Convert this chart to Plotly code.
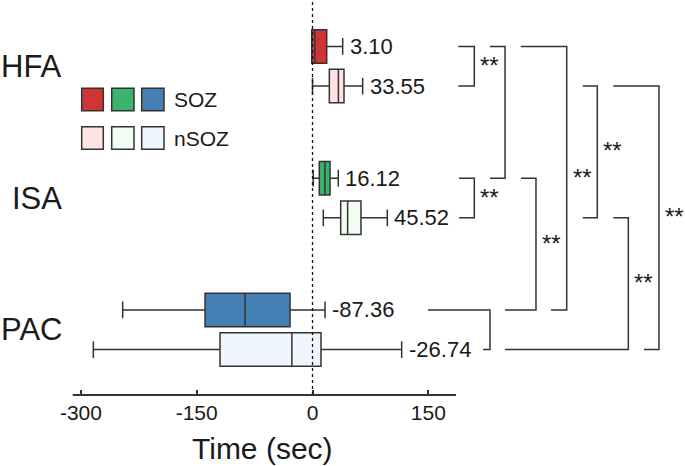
import plotly.graph_objects as go

# ---------------- data (seconds) ----------------
categories = ["HFA", "ISA", "PAC"]

soz_lower = [-1.0, 1.0, -245.9]
soz_q1 = [-1.0, 8.8, -139.2]
soz_median = [3.10, 16.12, -87.36]
soz_q3 = [18.4, 22.7, -29.1]
soz_upper = [39.1, 33.4, 16.2]

nsoz_lower = [0.0, 14.0, -283.9]
nsoz_q1 = [21.8, 36.5, -119.8]
nsoz_median = [33.55, 45.52, -26.74]
nsoz_q3 = [40.8, 62.8, 11.0]
nsoz_upper = [65.0, 96.9, 115.5]

soz_colors = ["#d03535", "#3cb46e", "#4480b3"]
nsoz_colors = ["#fde3e1", "#f1fdf1", "#eff6fd"]

tick_vals = [-300, -150, 0, 150]
tick_text = ["-300", "-150", "0", "150"]

# significance brackets: (row_a, row_b, x_start_a, x_start_b, x_vertical, label)
# rows: 0 HFA-SOZ, 1 HFA-nSOZ, 2 ISA-SOZ, 3 ISA-nSOZ, 4 PAC-SOZ, 5 PAC-nSOZ
brackets = [
    (0, 1, 188.9, 188.9, 209.6, "**"),
    (0, 2, 229.9, 229.9, 249.4, ""),
    (0, 4, 269.7, 308.9, 329.3, "**"),
    (1, 3, 350.0, 350.0, 368.9, "**"),
    (1, 5, 389.6, 429.4, 448.8, "**"),
    (2, 3, 189.8, 189.8, 209.6, "**"),
    (2, 4, 270.1, 249.4, 289.5, "**"),
    (3, 5, 389.6, 249.4, 409.1, "**"),
    (4, 5, 149.6, 220.9, 229.9, ""),
]

# ---------------- layout helpers ----------------
W, H = 685, 466
X0_PX = 312.5          # pixel of t = 0
SCALE = 0.772          # pixels per second
PLOT_BOTTOM = 395      # pixel row of the x axis
GROUP_PX0 = 66.25      # pixel of first group centre
GROUP_PITCH = 131.75   # pixels between groups
OFFSET = 0.15          # SOZ / nSOZ offset (group units)
BOX_W = 0.254          # box height (group units)

x_range = [-X0_PX / SCALE, (W - X0_PX) / SCALE]
y_top = (0 - GROUP_PX0) / GROUP_PITCH
y_bot = (PLOT_BOTTOM - GROUP_PX0) / GROUP_PITCH


def px2x(px):
    return (px - X0_PX) / SCALE


def px2y(py):
    return (py - GROUP_PX0) / GROUP_PITCH


def row_y(r):
    return r // 2 + (-OFFSET if r % 2 == 0 else OFFSET)


FONT = "Liberation Sans, Arial, sans-serif"
LINE = "#333333"
TXT = "#1a1a1a"

fig = go.Figure()

for i, cat in enumerate(categories):
    for kind, (lo, q1, med, q3, up, col) in {
        "SOZ": (soz_lower, soz_q1, soz_median, soz_q3, soz_upper, soz_colors),
        "nSOZ": (nsoz_lower, nsoz_q1, nsoz_median, nsoz_q3, nsoz_upper, nsoz_colors),
    }.items():
        yy = i + (-OFFSET if kind == "SOZ" else OFFSET)
        fig.add_trace(go.Box(
            y=[yy], orientation="h",
            lowerfence=[lo[i]], q1=[q1[i]], median=[med[i]], q3=[q3[i]], upperfence=[up[i]],
            width=BOX_W, whiskerwidth=0.5,
            fillcolor=col[i], line=dict(color=LINE, width=1.5),
            boxpoints=False, showlegend=False, name=f"{cat} {kind}",
        ))
        fig.add_annotation(
            x=up[i], y=yy, text=f"{med[i]:.2f}", showarrow=False,
            xanchor="left", yanchor="middle", xshift=5,
            font=dict(family=FONT, size=22, color=TXT),
        )

shapes = []
# zero line (dotted)
shapes.append(dict(type="line", xref="x", yref="paper", x0=0, x1=0, y0=0, y1=1,
                   line=dict(color="#111111", width=1.3, dash="dot"), layer="above"))
# x axis line
shapes.append(dict(type="line", xref="x", yref="paper", x0=px2x(72.7), x1=px2x(456),
                   y0=0, y1=0, line=dict(color=LINE, width=2)))

# brackets
for ra, rb, xa, xb, xv, lab in brackets:
    ya, yb = row_y(ra), row_y(rb)
    path = f"M {xa},{ya} L {xv},{ya} L {xv},{yb} L {xb},{yb}"
    shapes.append(dict(type="path", xref="x", yref="y", path=path,
                       line=dict(color=LINE, width=1.5)))
    if lab:
        fig.add_annotation(x=xv, y=(ya + yb) / 2, text=lab, showarrow=False,
                           xanchor="left", yanchor="middle", xshift=4, yshift=1,
                           font=dict(family=FONT, size=24, color=TXT))

# legend squares
leg_cols = [(81.7, 103.3), (111.7, 134.0), (141.7, 164.0)]
leg_rows = [(88.3, 110.7), (126.7, 149.3)]
for (r0, r1), cols in zip(leg_rows, [soz_colors, nsoz_colors]):
    for (c0, c1), col in zip(leg_cols, cols):
        shapes.append(dict(type="rect", xref="x", yref="y",
                           x0=px2x(c0), x1=px2x(c1), y0=px2y(r0), y1=px2y(r1),
                           fillcolor=col, line=dict(color=LINE, width=1.5)))
for (r0, r1), lab in zip(leg_rows, ["SOZ", "nSOZ"]):
    fig.add_annotation(x=px2x(172), y=px2y((r0 + r1) / 2), text=lab, showarrow=False,
                       xanchor="left", yanchor="middle",
                       font=dict(family=FONT, size=21, color=TXT))

# group labels
for i, cat in enumerate(categories):
    fig.add_annotation(x=px2x(64), y=i, text=cat, showarrow=False,
                       xanchor="right", yanchor="middle",
                       font=dict(family=FONT, size=31, color=TXT))

# axis title
fig.add_annotation(x=px2x(262), y=0, xref="x", yref="paper", text="Time (sec)",
                   showarrow=False, xanchor="center", yanchor="middle", yshift=-53,
                   font=dict(family=FONT, size=30, color=TXT))

fig.update_layout(
    width=W, height=H,
    margin=dict(l=0, r=0, t=0, b=H - PLOT_BOTTOM),
    paper_bgcolor="white", plot_bgcolor="white",
    shapes=shapes, showlegend=False, boxmode="overlay",
    xaxis=dict(range=x_range, tickvals=tick_vals, ticktext=tick_text,
               ticks="inside", ticklen=5, tickwidth=1.5, tickcolor=LINE,
               showline=False, showgrid=False, zeroline=False,
               ticklabelstandoff=3,
               tickfont=dict(family=FONT, size=21, color=TXT)),
    yaxis=dict(range=[y_bot, y_top], showticklabels=False, ticks="",
               showline=False, showgrid=False, zeroline=False),
)

fig.write_html(
    "out.html",
    config={"displayModeBar": False},
    post_script="document.body.style.margin='0px';document.body.style.overflow='hidden';",
)
